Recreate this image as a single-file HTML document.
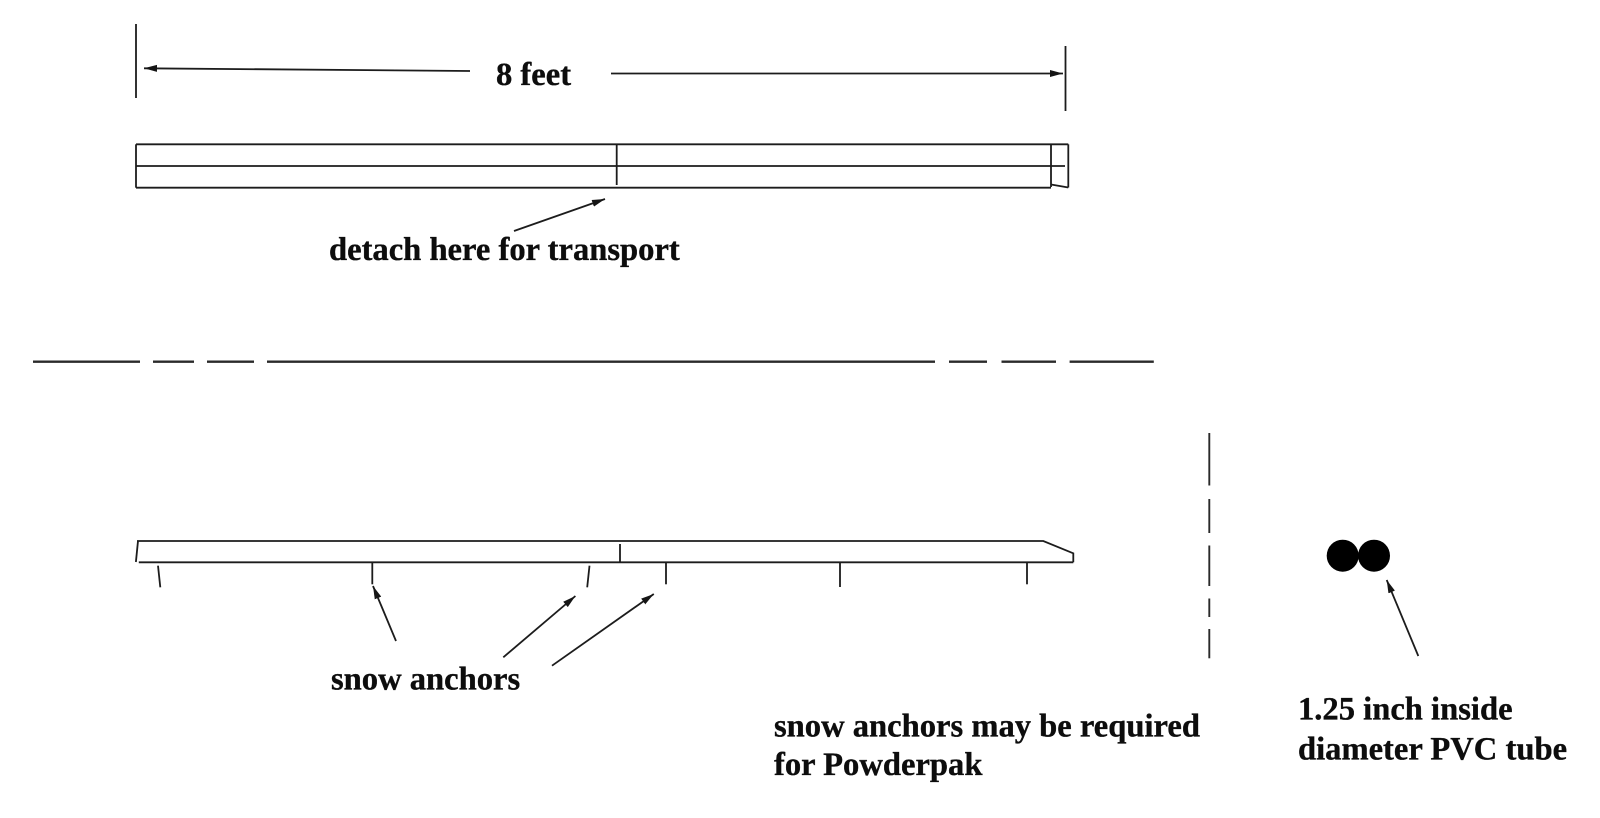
<!DOCTYPE html>
<html>
<head>
<meta charset="utf-8">
<style>
  html, body { margin: 0; padding: 0; background: #ffffff; }
  body { width: 1600px; height: 818px; overflow: hidden; }
  svg { display: block; }
  text { font-family: "Liberation Serif", "Times New Roman", serif; font-weight: bold; font-size: 32.6px; fill: #0d0d0d; stroke: #0d0d0d; stroke-width: 0.35px; }
</style>
</head>
<body>
<svg width="1600" height="818" viewBox="0 0 1600 818" xmlns="http://www.w3.org/2000/svg">
  <defs>
    <marker id="ah" markerWidth="14" markerHeight="9" refX="13" refY="4.5" orient="auto" markerUnits="userSpaceOnUse">
      <path d="M0,1 L13,4.5 L0,8 z" fill="#151515"/>
    </marker>
  </defs>

  <g stroke="#1c1c1c" stroke-width="1.8" fill="none" stroke-linecap="butt">
    <!-- dimension line -->
    <line x1="136" y1="24" x2="136" y2="98"/>
    <line x1="470" y1="71" x2="144" y2="68.3" marker-end="url(#ah)"/>
    <line x1="611" y1="73.5" x2="1063" y2="73.5" marker-end="url(#ah)"/>
    <line x1="1065.5" y1="46" x2="1065.5" y2="111"/>

    <!-- top bar -->
    <line x1="136" y1="144.3" x2="1068.3" y2="144.3"/>
    <line x1="136" y1="166" x2="1065" y2="166"/>
    <line x1="136" y1="187.7" x2="1051" y2="187.7"/>
    <line x1="136" y1="144.3" x2="136" y2="187.7"/>
    <line x1="616.7" y1="144.3" x2="616.7" y2="185"/>
    <line x1="1051" y1="144.3" x2="1051" y2="187"/>
    <line x1="1068.3" y1="144.3" x2="1068.3" y2="187.5"/>
    <line x1="1051" y1="184.5" x2="1068.3" y2="187.5"/>

    <!-- detach arrow -->
    <line x1="514" y1="231" x2="605" y2="199" marker-end="url(#ah)"/>

    <!-- lower bar -->
    <polyline points="137,541 1043.3,541 1073.3,553.3 1073.3,562.3"/>
    <line x1="138.8" y1="562.3" x2="1073.3" y2="562.3"/>
    <line x1="138" y1="541" x2="135.9" y2="562"/>
    <line x1="620" y1="544" x2="620" y2="562.3"/>

    <!-- legs -->
    <line x1="158" y1="565.7" x2="160.3" y2="587.3"/>
    <line x1="372.3" y1="562.3" x2="372.3" y2="584.3"/>
    <line x1="589.5" y1="565.7" x2="587.2" y2="587.3"/>
    <line x1="666" y1="563" x2="666" y2="584.3"/>
    <line x1="840" y1="563" x2="840" y2="587"/>
    <line x1="1027" y1="563" x2="1027" y2="584.3"/>

    <!-- snow anchor arrows -->
    <line x1="396" y1="641" x2="373" y2="586" marker-end="url(#ah)"/>
    <line x1="503.3" y1="657.3" x2="575.4" y2="596" marker-end="url(#ah)"/>
    <line x1="552" y1="665.7" x2="653.8" y2="594" marker-end="url(#ah)"/>

    <!-- PVC arrow -->
    <line x1="1418.3" y1="656" x2="1386.7" y2="580" marker-end="url(#ah)"/>
  </g>

  <!-- horizontal dashed separator -->
  <g stroke="#2a2a2a" stroke-width="2.4">
    <line x1="33" y1="361.7" x2="140" y2="361.7"/>
    <line x1="153" y1="361.7" x2="194" y2="361.7"/>
    <line x1="207" y1="361.7" x2="254" y2="361.7"/>
    <line x1="267" y1="361.7" x2="935" y2="361.7"/>
    <line x1="949" y1="361.7" x2="987" y2="361.7"/>
    <line x1="1001.5" y1="361.7" x2="1056" y2="361.7"/>
    <line x1="1069.6" y1="361.7" x2="1153.8" y2="361.7"/>
  </g>

  <!-- vertical dashed separator -->
  <g stroke="#2a2a2a" stroke-width="1.9">
    <line x1="1209.3" y1="433" x2="1209.3" y2="485.5"/>
    <line x1="1209.3" y1="499" x2="1209.3" y2="533"/>
    <line x1="1209.3" y1="545.5" x2="1209.3" y2="586"/>
    <line x1="1209.3" y1="598.5" x2="1209.3" y2="617"/>
    <line x1="1209.3" y1="629" x2="1209.3" y2="658.3"/>
  </g>

  <!-- PVC tubes -->
  <circle cx="1342.7" cy="555.7" r="16" fill="#000"/>
  <circle cx="1374" cy="555.7" r="16" fill="#000"/>

  <!-- labels -->
  <text x="496" y="85">8 feet</text>
  <text x="329" y="260">detach here for transport</text>
  <text x="331" y="689.3">snow anchors</text>
  <text x="774" y="736.7">snow anchors may be required</text>
  <text x="774" y="775">for Powderpak</text>
  <text x="1298" y="719.3">1.25 inch inside</text>
  <text x="1298" y="759.5">diameter PVC tube</text>
</svg>
</body>
</html>
